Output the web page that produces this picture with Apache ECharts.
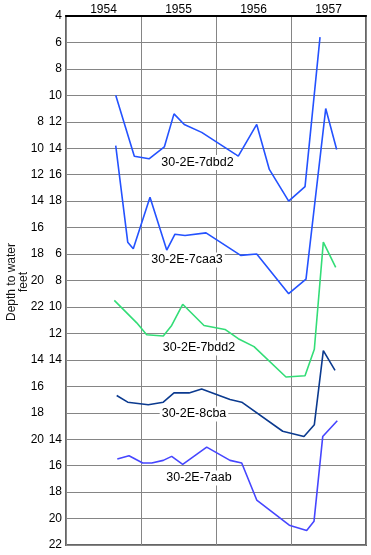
<!DOCTYPE html>
<html>
<head>
<meta charset="utf-8">
<script src="https://cdn.jsdelivr.net/npm/echarts@6/dist/echarts.min.js"></script>
<style>html,body{margin:0;padding:0;background:#fff}#c{width:371px;height:555px}</style>
</head>
<body>
<div id="c"></div>
<script>
// Year categories shown at top
var yearLabels = ['1954', '1955', '1956', '1957'];

// Tick labels for each well's depth scale (feet)
var ticks7dbd2 = [4, 6, 8, 10, 12, 14, 16, 18];
var ticks7caa3 = [8, 10, 12, 14, 16, 18, 20, 22];
var ticks7bdd2 = [6, 8, 10, 12, 14];
var ticks8cba  = [14, 16, 18, 20];
var ticks7aab  = [14, 16, 18, 20, 22];

// Well 30-2E-7dbd2
var dates7dbd2  = [1954.663, 1954.911, 1955.107, 1955.311, 1955.44, 1955.577, 1955.809, 1956.297, 1956.543, 1956.711, 1956.969, 1957.187, 1957.387];
var depths7dbd2 = [10.0, 14.6, 14.8, 13.9, 11.4, 12.2, 12.8, 14.6, 12.2, 15.6, 18.0, 16.9, 5.6];

// Well 30-2E-7caa3
var dates7caa3  = [1954.663, 1954.823, 1954.897, 1955.12, 1955.343, 1955.453, 1955.587, 1955.867, 1956.329, 1956.543, 1956.969, 1957.2, 1957.463, 1957.609];
var depths7caa3 = [9.8, 17.1, 17.6, 13.7, 17.7, 16.5, 16.6, 16.4, 18.1, 18.0, 21.0, 19.9, 7.0, 10.1];

// Well 30-2E-7bdd2
var dates7bdd2  = [1954.644, 1954.943, 1955.076, 1955.297, 1955.409, 1955.556, 1955.84, 1956.12, 1956.297, 1956.507, 1956.933, 1957.187, 1957.311, 1957.431, 1957.596];
var depths7bdd2 = [9.5, 11.2, 12.1, 12.2, 11.4, 9.8, 11.4, 11.7, 12.4, 13.0, 15.3, 15.2, 13.2, 5.1, 7.0];

// Well 30-2E-8cba
var dates8cba  = [1954.676, 1954.823, 1955.097, 1955.297, 1955.44, 1955.64, 1955.809, 1956.187, 1956.343, 1956.889, 1957.173, 1957.311, 1957.431, 1957.587];
var depths8cba = [16.7, 17.2, 17.4, 17.2, 16.5, 16.5, 16.2, 17.0, 17.2, 19.4, 19.8, 18.9, 13.3, 14.8];

// Well 30-2E-7aab
var dates7aab  = [1954.684, 1954.84, 1955.023, 1955.143, 1955.297, 1955.409, 1955.556, 1955.876, 1956.187, 1956.343, 1956.543, 1956.977, 1957.209, 1957.307, 1957.423, 1957.617];
var depths7aab = [15.5, 15.25, 15.8, 15.8, 15.6, 15.3, 15.9, 14.6, 15.6, 15.8, 18.6, 20.5, 20.9, 20.2, 13.8, 12.6];

function pairs(d, v) { return d.map(function (x, i) { return [x, v[i]]; }); }

var ROWS = 20, STEP = 2;
var FONT = 'Liberation Sans, Arial, sans-serif';
// row (from top) at which each scale's first tick label sits
function scaleAxis(ticks, firstRow, margin, showSplit) {
  var mn = ticks[0] - STEP * firstRow;
  var lo = ticks[0], hi = ticks[ticks.length - 1];
  return {
    type: 'value', position: 'left', offset: 0, inverse: true,
    min: mn, max: mn + STEP * ROWS, interval: STEP,
    axisLine: { show: false }, axisTick: { show: false },
    splitLine: { show: showSplit, lineStyle: { color: '#858585', width: 1 } },
    axisLabel: {
      margin: margin, color: '#000', fontSize: 12, fontFamily: FONT,
      showMinLabel: true, showMaxLabel: true,
      formatter: function (v) { return (v >= lo - 0.001 && v <= hi + 0.001) ? String(v) : ''; }
    }
  };
}

var chart = echarts.init(document.getElementById('c'), null, { renderer: 'canvas' });

var labelFont = '12.5px "Liberation Sans", Arial, sans-serif';
function seriesLabel(text, x, y) {
  return {
    type: 'text', x: x, y: y, z: 50,
    style: {
      text: text, font: labelFont, fill: '#000',
      align: 'center', verticalAlign: 'middle',
      backgroundColor: '#fff', padding: [1, 2]
    }
  };
}

function line(name, d, v, yi, color) {
  return {
    name: name, type: 'line', xAxisIndex: 0, yAxisIndex: yi,
    data: pairs(d, v), symbol: 'none', smooth: false,
    lineStyle: { color: color, width: 1.6 }, z: 3
  };
}

chart.setOption({
  animation: false,
  backgroundColor: '#fff',
  grid: { left: 66, top: 16, width: 300, height: 529, show: true, borderColor: '#666', borderWidth: 2, backgroundColor: 'transparent' },
  xAxis: [
    {
      type: 'value', position: 'top', min: 1954, max: 1958, interval: 1,
      axisLine: { show: true, lineStyle: { color: '#000', width: 2 } },
      axisTick: { show: false }, axisLabel: { show: false },
      splitLine: { show: true, lineStyle: { color: '#858585', width: 1 } }
    },
    {
      type: 'category', position: 'top', data: yearLabels, boundaryGap: true,
      axisLine: { show: false }, axisTick: { show: false }, splitLine: { show: false },
      axisLabel: { margin: 0, color: '#000', fontSize: 12, fontFamily: FONT }
    }
  ],
  yAxis: [
    scaleAxis(ticks7dbd2, 0, 4, true),
    scaleAxis(ticks7caa3, 4, 22, false),
    scaleAxis(ticks7bdd2, 9, 4, false),
    scaleAxis(ticks8cba, 13, 22, false),
    scaleAxis(ticks7aab, 16, 4, false)
  ],
  series: [
    line('30-2E-7dbd2', dates7dbd2, depths7dbd2, 0, '#2452ff'),
    line('30-2E-7caa3', dates7caa3, depths7caa3, 1, '#2452ff'),
    line('30-2E-7bdd2', dates7bdd2, depths7bdd2, 2, '#33dd77'),
    line('30-2E-8cba', dates8cba, depths8cba, 3, '#0b3a8f'),
    line('30-2E-7aab', dates7aab, depths7aab, 4, '#4646ff')
  ],
  graphic: [
    seriesLabel('30-2E-7dbd2', 197.5, 162.5),
    seriesLabel('30-2E-7caa3', 187, 260),
    seriesLabel('30-2E-7bdd2', 199, 348),
    seriesLabel('30-2E-8cba', 194, 414),
    seriesLabel('30-2E-7aab', 199, 478),
    {
      type: 'text', x: 17.5, y: 282, rotation: Math.PI / 2, z: 50,
      style: {
        text: 'Depth to water\nfeet', font: '12px "Liberation Sans", Arial, sans-serif', fill: '#111',
        align: 'center', verticalAlign: 'middle', lineHeight: 12
      }
    }
  ]
});
</script>
</body>
</html>
